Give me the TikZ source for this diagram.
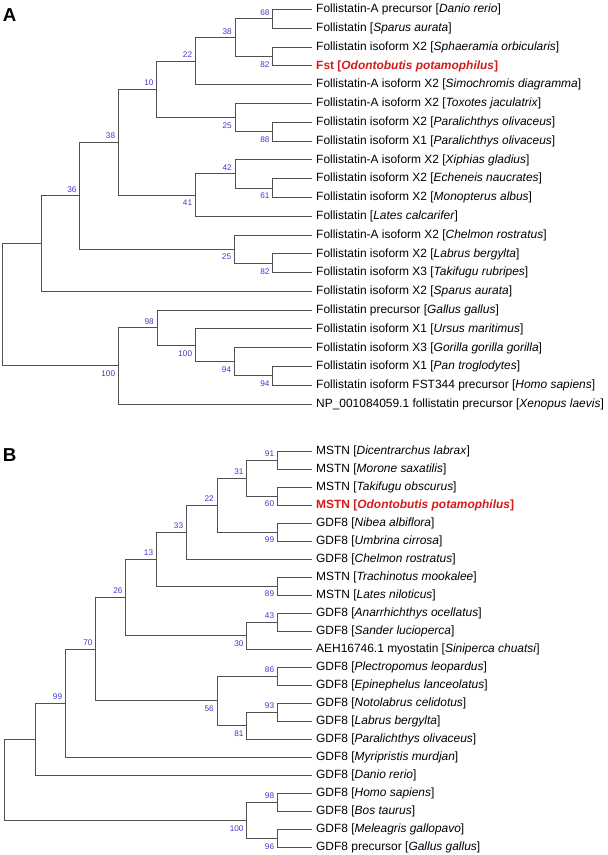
\documentclass[tikz,border=0pt]{standalone}
\usepackage{fontspec}
\setmainfont{Liberation Sans}
\definecolor{branch}{RGB}{80,80,80}
\definecolor{boot}{RGB}{60,60,205}
\definecolor{hl}{RGB}{210,28,28}
\begin{document}
\begin{tikzpicture}[x=1pt,y=-1pt,
  br/.style={draw=branch,line width=0.9pt},
  leaf/.style={anchor=west,inner xsep=4pt,inner ysep=0pt,text height=8.3pt,text depth=1.7pt,font=\fontsize{11.95}{13}\selectfont},
  hleaf/.style={leaf,text=hl,font=\fontsize{11.95}{13}\selectfont\bfseries},
  bsup/.style={anchor=base east,text=boot,font=\fontsize{8.2}{9}\selectfont,inner sep=0pt},
  bu/.style={bsup,xshift=-3pt,yshift=3.6pt},
  bl/.style={bsup,xshift=-3pt,yshift=-10.9pt},
  panel/.style={anchor=base west,inner sep=0pt,font=\fontsize{18.7}{20}\selectfont\bfseries}]
\useasboundingbox (0,0) rectangle (608,855);

% ---------------- Panel A ----------------
\node[panel] (pA) at (2.7,21.7) {A};
\node[leaf] (tA1) at (312,9.5) {Follistatin-A precursor [\textit{Danio rerio}]};
\node[leaf] (tA2) at (312,28.29) {Follistatin [\textit{Sparus aurata}]};
\node[leaf] (tA3) at (312,47.08) {Follistatin isoform X2 [\textit{Sphaeramia orbicularis}]};
\node[hleaf] (tA4) at (312,65.87) {Fst [\textit{Odontobutis potamophilus}]};
\node[leaf] (tA5) at (312,84.66) {Follistatin-A isoform X2 [\textit{Simochromis diagramma}]};
\node[leaf] (tA6) at (312,103.45) {Follistatin-A isoform X2 [\textit{Toxotes jaculatrix}]};
\node[leaf] (tA7) at (312,122.24) {Follistatin isoform X2 [\textit{Paralichthys olivaceus}]};
\node[leaf] (tA8) at (312,141.03) {Follistatin isoform X1 [\textit{Paralichthys olivaceus}]};
\node[leaf] (tA9) at (312,159.82) {Follistatin-A isoform X2 [\textit{Xiphias gladius}]};
\node[leaf] (tA10) at (312,178.61) {Follistatin isoform X2 [\textit{Echeneis naucrates}]};
\node[leaf] (tA11) at (312,197.4) {Follistatin isoform X2 [\textit{Monopterus albus}]};
\node[leaf] (tA12) at (312,216.19) {Follistatin [\textit{Lates calcarifer}]};
\node[leaf] (tA13) at (312,234.98) {Follistatin-A isoform X2 [\textit{Chelmon rostratus}]};
\node[leaf] (tA14) at (312,253.77) {Follistatin isoform X2 [\textit{Labrus bergylta}]};
\node[leaf] (tA15) at (312,272.56) {Follistatin isoform X3 [\textit{Takifugu rubripes}]};
\node[leaf] (tA16) at (312,291.35) {Follistatin isoform X2 [\textit{Sparus aurata}]};
\node[leaf] (tA17) at (312,310.14) {Follistatin precursor [\textit{Gallus gallus}]};
\node[leaf] (tA18) at (312,328.93) {Follistatin isoform X1 [\textit{Ursus maritimus}]};
\node[leaf] (tA19) at (312,347.72) {Follistatin isoform X3 [\textit{Gorilla gorilla gorilla}]};
\node[leaf] (tA20) at (312,366.51) {Follistatin isoform X1 [\textit{Pan troglodytes}]};
\node[leaf] (tA21) at (312,385.3) {Follistatin isoform FST344 precursor [\textit{Homo sapiens}]};
\node[leaf] (tA22) at (312,404.09) {NP\_001084059.1 follistatin precursor [\textit{Xenopus laevis}]};

\coordinate (nA68) at (272.7,18.9);
\coordinate (nA82) at (272.7,56.48);
\coordinate (nA38u) at (235,37.69);
\coordinate (nA22) at (195.3,61.17);
\coordinate (nA88) at (272.7,131.64);
\coordinate (nA25u) at (235,117.54);
\coordinate (nA10) at (156.7,89.36);
\coordinate (nA61) at (272.7,188.0);
\coordinate (nA42) at (235,173.9);
\coordinate (nA41) at (195.3,195.05);
\coordinate (nA38m) at (118.3,142.2);
\coordinate (nA82l) at (272.7,263.17);
\coordinate (nA25l) at (234.3,249.07);
\coordinate (nA36) at (79.7,195.64);
\coordinate (nAx) at (41,243.5);
\coordinate (nA94i) at (272.7,375.9);
\coordinate (nA94) at (234.3,361.8);
\coordinate (nA100i) at (195.3,345.4);
\coordinate (nA98) at (157,327.8);
\coordinate (nA100) at (118.3,365.9);
\coordinate (rA) at (2.7,304.7);

\draw[br] (nA68) |- (tA1.west) (nA68) |- (tA2.west);
\draw[br] (nA82) |- (tA3.west) (nA82) |- (tA4.west);
\draw[br] (nA38u) |- (nA68) (nA38u) |- (nA82);
\draw[br] (nA22) |- (nA38u) (nA22) |- (tA5.west);
\draw[br] (nA88) |- (tA7.west) (nA88) |- (tA8.west);
\draw[br] (nA25u) |- (tA6.west) (nA25u) |- (nA88);
\draw[br] (nA10) |- (nA22) (nA10) |- (nA25u);
\draw[br] (nA61) |- (tA10.west) (nA61) |- (tA11.west);
\draw[br] (nA42) |- (tA9.west) (nA42) |- (nA61);
\draw[br] (nA41) |- (nA42) (nA41) |- (tA12.west);
\draw[br] (nA38m) |- (nA10) (nA38m) |- (nA41);
\draw[br] (nA82l) |- (tA14.west) (nA82l) |- (tA15.west);
\draw[br] (nA25l) |- (tA13.west) (nA25l) |- (nA82l);
\draw[br] (nA36) |- (nA38m) (nA36) |- (nA25l);
\draw[br] (nAx) |- (nA36) (nAx) |- (tA16.west);
\draw[br] (nA94i) |- (tA20.west) (nA94i) |- (tA21.west);
\draw[br] (nA94) |- (tA19.west) (nA94) |- (nA94i);
\draw[br] (nA100i) |- (tA18.west) (nA100i) |- (nA94);
\draw[br] (nA98) |- (tA17.west) (nA98) |- (nA100i);
\draw[br] (nA100) |- (nA98) (nA100) |- (tA22.west);
\draw[br] (rA) |- (nAx) (rA) |- (nA100);

\node[bu] (lA68) at (nA68) {68};
\node[bl] (lA82) at (nA82) {82};
\node[bu] (lA38u) at (nA38u) {38};
\node[bu] (lA22) at (nA22) {22};
\node[bu] (lA10) at (nA10) {10};
\node[bl] (lA25u) at (nA25u) {25};
\node[bl] (lA88) at (nA88) {88};
\node[bu] (lA38m) at (nA38m) {38};
\node[bu] (lA42) at (nA42) {42};
\node[bl] (lA61) at (nA61) {61};
\node[bl] (lA41) at (nA41) {41};
\node[bu] (lA36) at (nA36) {36};
\node[bl] (lA25l) at (nA25l) {25};
\node[bl] (lA82l) at (nA82l) {82};
\node[bu] (lA98) at (nA98) {98};
\node[bl] (lA100i) at (nA100i) {100};
\node[bl] (lA94) at (nA94) {94};
\node[bl] (lA94i) at (nA94i) {94};
\node[bl] (lA100) at (nA100) {100};

% ---------------- Panel B ----------------
\node[panel] (pB) at (2.7,461.7) {B};
\node[leaf] (tB1) at (312,451) {MSTN [\textit{Dicentrarchus labrax}]};
\node[leaf] (tB2) at (312,469.01) {MSTN [\textit{Morone saxatilis}]};
\node[leaf] (tB3) at (312,487.02) {MSTN [\textit{Takifugu obscurus}]};
\node[hleaf] (tB4) at (312,505.03) {MSTN [\textit{Odontobutis potamophilus}]};
\node[leaf] (tB5) at (312,523.04) {GDF8 [\textit{Nibea albiflora}]};
\node[leaf] (tB6) at (312,541.05) {GDF8 [\textit{Umbrina cirrosa}]};
\node[leaf] (tB7) at (312,559.06) {GDF8 [\textit{Chelmon rostratus}]};
\node[leaf] (tB8) at (312,577.07) {MSTN [\textit{Trachinotus mookalee}]};
\node[leaf] (tB9) at (312,595.08) {MSTN [\textit{Lates niloticus}]};
\node[leaf] (tB10) at (312,613.09) {GDF8 [\textit{Anarrhichthys ocellatus}]};
\node[leaf] (tB11) at (312,631.1) {GDF8 [\textit{Sander lucioperca}]};
\node[leaf] (tB12) at (312,649.11) {AEH16746.1 myostatin [\textit{Siniperca chuatsi}]};
\node[leaf] (tB13) at (312,667.12) {GDF8 [\textit{Plectropomus leopardus}]};
\node[leaf] (tB14) at (312,685.13) {GDF8 [\textit{Epinephelus lanceolatus}]};
\node[leaf] (tB15) at (312,703.14) {GDF8 [\textit{Notolabrus celidotus}]};
\node[leaf] (tB16) at (312,721.15) {GDF8 [\textit{Labrus bergylta}]};
\node[leaf] (tB17) at (312,739.16) {GDF8 [\textit{Paralichthys olivaceus}]};
\node[leaf] (tB18) at (312,757.17) {GDF8 [\textit{Myripristis murdjan}]};
\node[leaf] (tB19) at (312,775.18) {GDF8 [\textit{Danio rerio}]};
\node[leaf] (tB20) at (312,793.19) {GDF8 [\textit{Homo sapiens}]};
\node[leaf] (tB21) at (312,811.2) {GDF8 [\textit{Bos taurus}]};
\node[leaf] (tB22) at (312,829.21) {GDF8 [\textit{Meleagris gallopavo}]};
\node[leaf] (tB23) at (312,847.22) {GDF8 precursor [\textit{Gallus gallus}]};

\coordinate (nB91) at (277.3,460.0);
\coordinate (nB60) at (277.3,496.03);
\coordinate (nB31) at (246.7,478.0);
\coordinate (nB99) at (277.3,532.05);
\coordinate (nB22) at (217,505.0);
\coordinate (nB33) at (186.3,532.05);
\coordinate (nB89) at (277.3,586.08);
\coordinate (nB13) at (156.3,559.06);
\coordinate (nB43) at (277.3,622.1);
\coordinate (nB30) at (246.7,635.6);
\coordinate (nB26) at (125.7,597.3);
\coordinate (nB86) at (277.3,676.1);
\coordinate (nB93) at (277.3,712.1);
\coordinate (nB81) at (246.7,725.6);
\coordinate (nB56) at (217,700.9);
\coordinate (nB70) at (95.7,649.1);
\coordinate (nB99o) at (65.3,703.1);
\coordinate (nBx) at (35,739.1);
\coordinate (nB98) at (277.3,802.2);
\coordinate (nB96) at (277.3,838.2);
\coordinate (nB100) at (246.7,820.2);
\coordinate (rB) at (4.7,779.7);

\draw[br] (nB91) |- (tB1.west) (nB91) |- (tB2.west);
\draw[br] (nB60) |- (tB3.west) (nB60) |- (tB4.west);
\draw[br] (nB31) |- (nB91) (nB31) |- (nB60);
\draw[br] (nB99) |- (tB5.west) (nB99) |- (tB6.west);
\draw[br] (nB22) |- (nB31) (nB22) |- (nB99);
\draw[br] (nB33) |- (nB22) (nB33) |- (tB7.west);
\draw[br] (nB89) |- (tB8.west) (nB89) |- (tB9.west);
\draw[br] (nB13) |- (nB33) (nB13) |- (nB89);
\draw[br] (nB43) |- (tB10.west) (nB43) |- (tB11.west);
\draw[br] (nB30) |- (nB43) (nB30) |- (tB12.west);
\draw[br] (nB26) |- (nB13) (nB26) |- (nB30);
\draw[br] (nB86) |- (tB13.west) (nB86) |- (tB14.west);
\draw[br] (nB93) |- (tB15.west) (nB93) |- (tB16.west);
\draw[br] (nB81) |- (nB93) (nB81) |- (tB17.west);
\draw[br] (nB56) |- (nB86) (nB56) |- (nB81);
\draw[br] (nB70) |- (nB26) (nB70) |- (nB56);
\draw[br] (nB99o) |- (nB70) (nB99o) |- (tB18.west);
\draw[br] (nBx) |- (nB99o) (nBx) |- (tB19.west);
\draw[br] (nB98) |- (tB20.west) (nB98) |- (tB21.west);
\draw[br] (nB96) |- (tB22.west) (nB96) |- (tB23.west);
\draw[br] (nB100) |- (nB98) (nB100) |- (nB96);
\draw[br] (rB) |- (nBx) (rB) |- (nB100);

\node[bu] (lB91) at (nB91) {91};
\node[bl] (lB60) at (nB60) {60};
\node[bu] (lB31) at (nB31) {31};
\node[bu] (lB22) at (nB22) {22};
\node[bl] (lB99) at (nB99) {99};
\node[bu] (lB33) at (nB33) {33};
\node[bu] (lB13) at (nB13) {13};
\node[bl] (lB89) at (nB89) {89};
\node[bu] (lB26) at (nB26) {26};
\node[bu] (lB43) at (nB43) {43};
\node[bl] (lB30) at (nB30) {30};
\node[bu] (lB70) at (nB70) {70};
\node[bu] (lB86) at (nB86) {86};
\node[bl] (lB56) at (nB56) {56};
\node[bu] (lB93) at (nB93) {93};
\node[bl] (lB81) at (nB81) {81};
\node[bu] (lB99o) at (nB99o) {99};
\node[bu] (lB98) at (nB98) {98};
\node[bl] (lB100) at (nB100) {100};
\node[bl] (lB96) at (nB96) {96};
\end{tikzpicture}
\end{document}
